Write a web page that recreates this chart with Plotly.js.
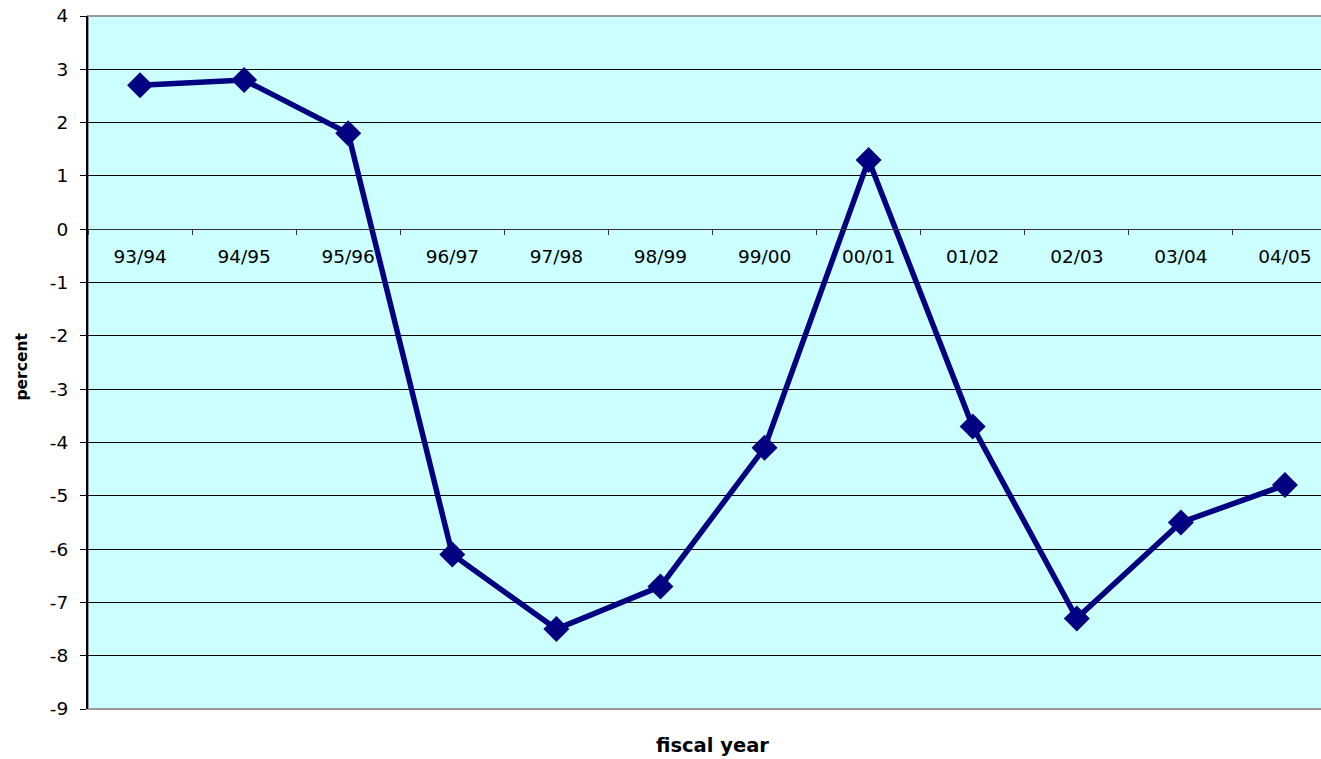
<!DOCTYPE html>
<html>
<head>
<meta charset="utf-8">
<script src="https://cdn.plot.ly/plotly-3.0.1.min.js"></script>
<style>
  html, body { margin: 0; padding: 0; background: #fff; overflow: hidden; }
  #chart { width: 1340px; height: 759px; }
</style>
</head>
<body>
<div id="chart"></div>
<script>
// Annual change by fiscal year, in percent
const fiscalYears = ['93/94', '94/95', '95/96', '96/97', '97/98', '98/99',
                     '99/00', '00/01', '01/02', '02/03', '03/04', '04/05'];
const percentChange = [2.7, 2.8, 1.8, -6.1, -7.5, -6.7, -4.1, 1.3, -3.7, -7.3, -5.5, -4.8];

// value axis ticks, labelled with a plain hyphen for negatives
const yTickValues = [4, 3, 2, 1, 0, -1, -2, -3, -4, -5, -6, -7, -8, -9];
const yTickLabels = yTickValues.map(v => String(v));

const yMin = -9, yMax = 4;
const FONT = '"DejaVu Sans", Arial, sans-serif';

const trace = {
  x: fiscalYears,
  y: percentChange,
  type: 'scatter',
  mode: 'lines+markers',
  line: { color: '#000080', width: 5.5 },
  marker: { symbol: 'diamond', size: 20, color: '#000080' },
  cliponaxis: false,
  hoverinfo: 'x+y'
};

// position of the zero line within the plot, used to sit the category axis on it
const zeroPos = (0 - yMin) / (yMax - yMin);

const layout = {
  width: 1340,
  height: 759,
  margin: { l: 88, r: 3, t: 16, b: 50 },
  paper_bgcolor: '#ffffff',
  plot_bgcolor: '#ccffff',
  font: { family: FONT, size: 18, color: '#000' },
  showlegend: false,
  xaxis: {
    type: 'category',
    range: [-0.5, 11.5],
    anchor: 'free',
    position: zeroPos,
    showline: true,
    linecolor: '#333',
    linewidth: 1,
    ticks: 'outside',
    tickson: 'boundaries',
    ticklen: 5,
    tickcolor: '#333',
    showgrid: false,
    zeroline: false,
    tickfont: { size: 18.5 },
    ticklabelstandoff: 11,
    fixedrange: true
  },
  yaxis: {
    range: [yMin, yMax],
    tickvals: yTickValues,
    ticktext: yTickLabels,
    showgrid: true,
    gridcolor: '#000',
    gridwidth: 1,
    zeroline: false,
    showline: true,
    linecolor: '#000',
    linewidth: 2,
    ticks: 'outside',
    ticklen: 6,
    tickcolor: '#000',
    tickfont: { size: 18.5 },
    ticklabelstandoff: 8,
    fixedrange: true
  },
  annotations: [
    {
      text: '<b>fiscal year</b>', xref: 'paper', yref: 'paper',
      x: 0.5, y: 0, yshift: -36, xanchor: 'center', yanchor: 'middle',
      showarrow: false, font: { family: FONT, size: 19.5 }
    },
    {
      text: '<b>percent</b>', xref: 'paper', yref: 'paper',
      x: 0, y: 0.5, xshift: -67, yshift: -4, textangle: -90,
      xanchor: 'center', yanchor: 'middle',
      showarrow: false, font: { family: FONT, size: 15.5 }
    }
  ],
  shapes: [
    {
      type: 'rect', xref: 'paper', yref: 'paper',
      x0: 0, x1: 1, y0: 0, y1: 1,
      line: { color: '#999', width: 2 },
      layer: 'below'
    }
  ]
};

Plotly.newPlot('chart', [trace], layout, { staticPlot: true, displayModeBar: false });
</script>
</body>
</html>
